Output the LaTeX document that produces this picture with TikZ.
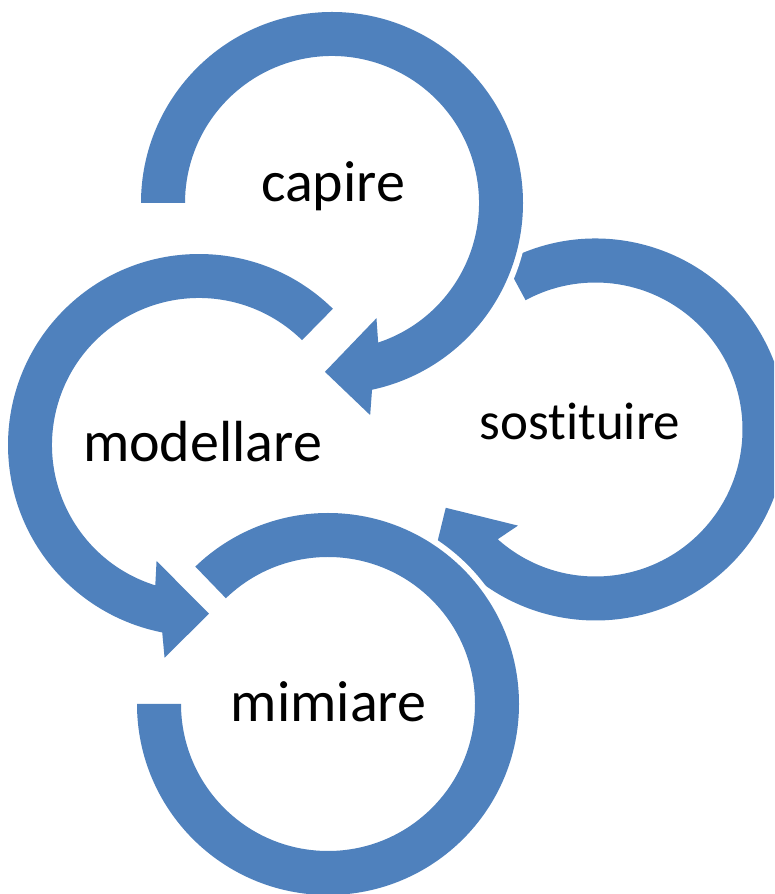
\documentclass[tikz,border=0pt]{standalone}
\usepackage{fontspec}
\setmainfont{Carlito}[Ligatures=NoCommon]
\usepackage{tikz}

\definecolor{ringblue}{HTML}{4F81BD}

\begin{document}
\begin{tikzpicture}[x=1pt,y=1pt,
  ring/.style={fill=ringblue, preaction={draw=white, line width=12pt, line join=round}},
  word/.style={anchor=base, inner sep=0pt, font=\fontsize{58}{62}\selectfont}]
\useasboundingbox (0,0) rectangle (774,894);
\clip (0,0) rectangle (774,894);
% sostituire (bottom of the stack)
\fill[ring, shift={(595.5,464.5)}] (118.4:191) arc[start angle=118.4, end angle=-137.9, radius=191]
  -- (-139.8:215.5) -- (-152.4:169) -- (-128.9:123.5) -- (-131.7:147)
  arc[start angle=-131.7, end angle=118.4, radius=147] -- cycle;
% mimiare
\fill[ring, shift={(328,190)}] (-180:191) arc[start angle=-180, end angle=134, radius=191]
  -- (134:147) arc[start angle=134, end angle=-180, radius=147] -- cycle;
% modellare
\fill[ring, shift={(199,449)}] (45.5:191) arc[start angle=45.5, end angle=258.9, radius=191]
  -- (260.8:215.5) -- (273.4:169) -- (249.9:123.5) -- (252.7:147)
  arc[start angle=252.7, end angle=45.5, radius=147] -- cycle;
% capire (top of the stack)
\fill[ring, shift={(332,691)}] (180:191) arc[start angle=180, end angle=-77.9, radius=191]
  -- (-79.8:215.5) -- (-92.4:169) -- (-68.9:123.5) -- (-71.7:147)
  arc[start angle=-71.7, end angle=180, radius=147] -- cycle;
\node[word] (capire) at (333,692) {capire};
\node[word] (modellare) at (202.5,432.3) {modellare};
\node[word, font=\fontsize{53}{58}\selectfont] (sostituire) at (580,454.5) {sostituire};
\node[word] (mimiare) at (328.5,172) {mimiare};
\end{tikzpicture}
\end{document}
